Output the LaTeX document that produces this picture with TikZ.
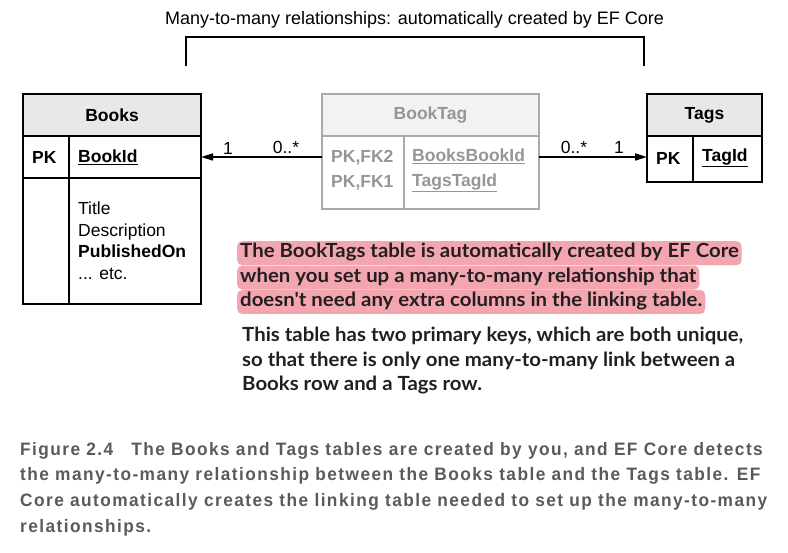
\documentclass[tikz,border=0pt]{standalone}
\usepackage{fontspec}
\setmainfont{Liberation Sans}
\newfontfamily\notefont[FakeStretch=1.045]{Lato}
\newfontfamily\capfont[FakeStretch=0.96,LetterSpace=8]{Liberation Sans}
\usetikzlibrary{positioning}
\usetikzlibrary{arrows.meta}
\definecolor{headgray}{RGB}{232,232,232}
\definecolor{linkgray}{RGB}{170,170,170}
\definecolor{linktext}{RGB}{150,150,150}
\definecolor{linkhead}{RGB}{242,242,242}
\definecolor{notepink}{RGB}{244,166,176}
\definecolor{notetext}{RGB}{35,31,32}
\definecolor{captext}{RGB}{90,90,90}
\newcommand{\dfont}{\fontsize{17.5}{21.5}\selectfont}

\tikzset{
  tbl/.style={draw, line width=1.3pt, rectangle, inner sep=0pt, outer sep=0pt, anchor=north west},
  tblhead/.style={tbl, fill=headgray, font=\dfont\bfseries},
  link/.style={tbl, draw=linkgray},
  linkhead/.style={link, fill=linkhead, text=linktext, font=\dfont\bfseries},
  cell/.style={inner sep=0pt, anchor=west, font=\dfont},
  mult/.style={inner sep=0pt, font=\dfont},
  rel/.style={line width=1.6pt, -{Triangle[length=12pt,width=7pt]}},
  hl/.style={fill=notepink, rounded corners=5pt, inner xsep=3pt, inner ysep=2.5pt,
    text height=14pt, text depth=5pt, anchor=north west, text=notetext,
    font=\notefont\bfseries\fontsize{19.5}{24}\selectfont}
}

\begin{document}
\begin{tikzpicture}[x=1pt, y=-1pt]
  \useasboundingbox (0,0) rectangle (788,553);

  % title and bracket
  \node[font=\fontsize{18}{21}\selectfont] (title) at (414.5,20) {Many-to-many relationships: automatically created by EF Core};
  \coordinate (brl) at (186,66);
  \coordinate (brr) at (644,66);
  \draw[line width=1.2pt] (brl) -- (186,37) -- (644,37) -- (brr);

  % Books
  \node[tblhead, minimum width=178pt, minimum height=42pt] (books-head) at (23,94) {Books};
  \node[tbl, minimum width=178pt, minimum height=42pt, below=0pt of books-head] (books-key) {};
  \node[tbl, minimum width=178pt, minimum height=126pt, below=0pt of books-key] (books-rest) {};
  \draw[line width=1.3pt] ([xshift=46pt]books-key.north west) -- ([xshift=46pt]books-rest.south west);
  \node[cell, font=\dfont\bfseries] (books-pk) at (32,157) {PK};
  \node[cell, font=\dfont\bfseries] (books-id) at (78,157) {\underline{BookId}};
  \node[cell, align=left] (books-attr) at (78,240.5) {Title\\Description\\\textbf{PublishedOn}\\... etc.};

  % BookTag (linking table)
  \node[linkhead, minimum width=217pt, minimum height=42pt] (booktag-head) at (322,94) {BookTag};
  \node[link, minimum width=217pt, minimum height=73pt, below=0pt of booktag-head] (booktag-body) {};
  \draw[line width=1.3pt, linkgray] ([xshift=82pt]booktag-body.north west) -- ([xshift=82pt]booktag-body.south west);
  \node[cell, align=left, text=linktext, font=\fontsize{17.5}{25}\selectfont\bfseries] (booktag-keys) at (331,170.5) {PK,FK2\\PK,FK1};
  \node[cell, align=left, text=linktext, font=\fontsize{17.5}{25}\selectfont\bfseries] (booktag-cols) at (412,170.5) {\underline{BooksBookId}\\\underline{TagsTagId}};

  % Tags
  \node[tblhead, minimum width=115pt, minimum height=42pt] (tags-head) at (647,94) {Tags};
  \node[tbl, minimum width=115pt, minimum height=46pt, below=0pt of tags-head] (tags-key) {};
  \draw[line width=1.3pt] ([xshift=46pt]tags-key.north west) -- ([xshift=46pt]tags-key.south west);
  \node[cell, font=\dfont\bfseries] (tags-pk) at (656,158) {PK};
  \node[cell, font=\dfont\bfseries] (tags-id) at (702,158) {\underline{TagId}};

  % relationships
  \draw[rel] (booktag-body.west |- books-pk) -- (books-key.east |- books-pk);
  \draw[rel] (booktag-body.east |- books-pk) -- (tags-key.west |- books-pk);
  \node[mult] (m-books-1) at (228,148) {1};
  \node[mult] (m-books-n) at (286,147) {0..*};
  \node[mult] (m-tags-n) at (574,147) {0..*};
  \node[mult] (m-tags-1) at (619,147) {1};

  % notes
  \node[hl] (hl1) at (237,241) {The BookTags table is automatically created by EF Core};
  \node[hl] (hl2) at (hl1.south west) {when you set up a many-to-many relationship that};
  \node[hl] (hl3) at (hl2.south west) {doesn't need any extra columns in the linking table.};
  \node[anchor=north west, align=left, inner sep=0pt, text=notetext,
    font=\notefont\bfseries\fontsize{19.5}{24.5}\selectfont] (note2) at (242,327)
    {This table has two primary keys, which are both unique,\\
     so that there is only one many-to-many link between a\\
     Books row and a Tags row.};

  % caption
  \node[anchor=north west, align=left, inner sep=0pt, text=captext,
    font=\capfont\bfseries\fontsize{18}{25.7}\selectfont] (caption) at (20,442)
    {Figure 2.4\hspace{1em}The Books and Tags tables are created by you, and EF Core detects\\
     the many-to-many relationship between the Books table and the Tags table. EF\\
     Core automatically creates the linking table needed to set up the many-to-many\\
     relationships.};
\end{tikzpicture}
\end{document}
